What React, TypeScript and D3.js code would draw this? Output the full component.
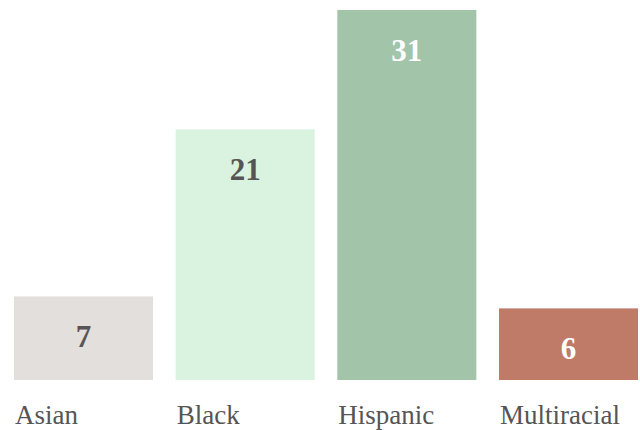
import React from "react";
import * as d3 from "d3";

const categories = ["Asian", "Black", "Hispanic", "Multiracial"];
const values = [7, 21, 31, 6];
const barColors = ["#e2dfdc", "#daf3e0", "#a2c4a9", "#bf7a68"];
const valueTextColors = ["#555555", "#555555", "#ffffff", "#ffffff"];

const W = 640;
const H = 430;
const FONT = "'Liberation Serif', 'Times New Roman', serif";

export default function App() {
  const x = d3.scaleBand<string>().domain(categories).range([14, 638]).paddingInner(0.14).paddingOuter(0);
  const y = d3.scaleLinear().domain([0, 31]).range([380, 10]);

  return (
    <svg width={W} height={H} style={{ position: "fixed", left: 0, top: 0, background: "#fff" }}>
      {categories.map((c, i) => {
        const bx = x(c)!;
        const by = y(values[i]);
        return (
          <g key={c}>
            <rect x={bx} y={by} width={x.bandwidth()} height={y(0) - by} fill={barColors[i]} />
            <text
              x={bx + x.bandwidth() / 2}
              y={by + 51}
              textAnchor="middle"
              fontFamily={FONT}
              fontWeight="bold"
              fontSize={31}
              fill={valueTextColors[i]}
            >
              {values[i]}
            </text>
            <text x={bx + 1} y={424} fontFamily={FONT} fontSize={27} fill="#555555">
              {c}
            </text>
          </g>
        );
      })}
    </svg>
  );
}
